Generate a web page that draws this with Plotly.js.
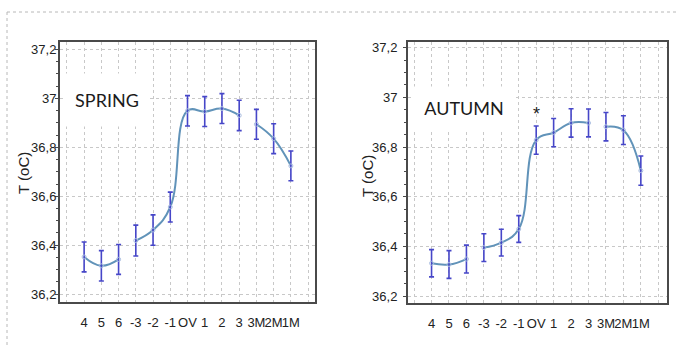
<!DOCTYPE html>
<html><head><meta charset="utf-8">
<script src="https://cdn.plot.ly/plotly-3.0.1.min.js"></script>
<style>html,body{margin:0;padding:0;background:#fff}#chart{width:677px;height:345px}</style>
</head><body><div id="chart"></div>
<script>
// ---- data ----
const categories = ['4','5','6','-3','-2','-1','OV','1','2','3','3M','2M','1M'];
const segmentStarts = [0, 3, 10]; // indices where the connecting line restarts
const springMean = [36.352,36.316,36.342,36.419,36.462,36.556,36.949,36.946,36.958,36.930,36.894,36.835,36.724];
const springErr  = [0.061,0.062,0.061,0.063,0.062,0.061,0.062,0.061,0.061,0.062,0.061,0.061,0.061];
const autumnMean = [36.332,36.327,36.349,36.395,36.415,36.470,36.828,36.858,36.897,36.897,36.882,36.868,36.705];
const autumnErr  = [0.055,0.056,0.056,0.056,0.054,0.054,0.057,0.057,0.057,0.056,0.057,0.058,0.059];
const panelLabels = ['SPRING','AUTUMN'];
const starLabel = '*';
const starCategory = 'OV';
const yTitle = 'T (oC)';

// ---- build ----
const W = 677, H = 345;
const idx = categories.map((c,i)=>i);
const lineColor = '#6193b9';
const errColor = '#4646c8';
const FONT = '"Liberation Sans", Arial, sans-serif';
const LABELFONT = 'Lato, "Liberation Sans", sans-serif';

function panelTraces(mean, err, xa, ya){
  const tr = [];
  const bounds = segmentStarts.concat([categories.length]);
  for (let s=0; s<segmentStarts.length; s++){
    const a = bounds[s], b = bounds[s+1];
    tr.push({x: idx.slice(a,b), y: mean.slice(a,b), xaxis: xa, yaxis: ya, type:'scatter', mode:'lines',
      line:{color: lineColor, width: 2, shape:'spline', smoothing: 1.2}, hoverinfo:'skip', showlegend:false});
  }
  tr.push({x: idx, y: mean, xaxis: xa, yaxis: ya, type:'scatter', mode:'markers',
    marker:{size:4, color:'rgba(255,255,255,0)', line:{color:'#a9bde0', width:1}},
    error_y:{type:'data', array: err, visible:true, color: errColor, thickness: 1.6, width: 2.5},
    showlegend:false});
  return tr;
}

const data = [].concat(
  panelTraces(springMean, springErr, 'x', 'y'),
  panelTraces(autumnMean, autumnErr, 'x2', 'y2')
);

const tickvals = [-1].concat(idx, [categories.length]);
const ticktext = [''].concat(categories, ['']);

function px(v){ return v / W; }
function py(v){ return 1 - v / H; }

function xAxis(domain, range){
  return {domain: domain, range: range, tickvals: tickvals, ticktext: ticktext, tickangle: 0,
    showgrid: true, gridcolor:'#c8c8c8', griddash:'dot', gridwidth:1,
    showline:true, mirror:true, linecolor:'#4a4a4a', linewidth:2,
    ticks:'', zeroline:false, ticklabelstandoff: 7,
    tickfont:{family: FONT, size: 13, color:'#222'}, fixedrange:true};
}
function yAxis(domain, range, anchor, standoff){
  return {domain: domain, range: range, anchor: anchor, dtick: 0.2, tick0: 36.2,
    showgrid: true, gridcolor:'#c8c8c8', griddash:'dot', gridwidth:1,
    showline:true, mirror:true, linecolor:'#4a4a4a', linewidth:2,
    ticks:'outside', ticklen:3, tickcolor:'#4a4a4a', zeroline:false, ticklabelstandoff: standoff,
    minor:{dtick:0.05, tick0:36.2, ticks:'outside', ticklen:2, tickcolor:'#4a4a4a', showgrid:false},
    tickfont:{family: FONT, size: 13, color:'#222'}, fixedrange:true};
}
function yMirror(range, overlay, anchor){
  return {overlaying: overlay, anchor: anchor, side:'right', range: range, dtick:0.2, tick0:36.2,
    showgrid:false, showline:false, zeroline:false, showticklabels:false,
    ticks:'inside', ticklen:5, tickcolor:'#4a4a4a',
    minor:{dtick:0.05, tick0:36.2, ticks:'inside', ticklen:3, tickcolor:'#4a4a4a'}, fixedrange:true};
}

const yRangeL = [36.168, 37.23];
const yRangeR = [36.172, 37.223];

const starIdx = categories.indexOf(starCategory);

const layout = {
  width: W, height: H, margin:{l:0,r:0,t:0,b:0},
  paper_bgcolor:'#fff', plot_bgcolor:'#fff',
  separators: ',.',
  font:{family: FONT, color:'#222'},
  showlegend:false,
  xaxis: xAxis([px(60), px(315)], [-1.4, 13.4]),
  yaxis: yAxis([py(302), py(42)], yRangeL, 'x', -4),
  xaxis2: Object.assign(xAxis([px(408), px(667)], [-1.35, 13.5]), {anchor:'y2'}),
  yaxis2: yAxis([py(303), py(42)], yRangeR, 'x2', 3),
  yaxis3: yMirror(yRangeL, 'y', 'x'),
  yaxis4: yMirror(yRangeR, 'y2', 'x2'),
  shapes: [
    {type:'line', xref:'paper', yref:'paper', x0:px(7), x1:1, y0:py(12), y1:py(12), line:{color:'#b8b8b8', width:1, dash:'dot'}},
    {type:'line', xref:'paper', yref:'paper', x0:px(7), x1:px(7), y0:py(12), y1:0, line:{color:'#b8b8b8', width:1, dash:'dot'}}
  ],
  annotations: [
    {text: panelLabels[0], xref:'paper', yref:'paper', x: px(107), y: py(100), xanchor:'center', yanchor:'middle',
     showarrow:false, bgcolor:'#fff', width: 80, height: 50,
     font:{family: LABELFONT, size: 18, color:'#1a1a1a'}},
    {text: panelLabels[1], xref:'paper', yref:'paper', x: px(464), y: py(108), xanchor:'center', yanchor:'middle',
     showarrow:false, bgcolor:'#fff', width: 100, height: 40,
     font:{family: LABELFONT, size: 18, color:'#1a1a1a'}},
    {text: starLabel, xref:'x2', yref:'y2', x: starIdx, y: autumnMean[starIdx] + autumnErr[starIdx] + 0.05,
     xanchor:'center', yanchor:'middle', showarrow:false,
     font:{family: FONT, size: 18, color:'#222'}},
    {text: yTitle, xref:'paper', yref:'paper', x: px(23), y: py(173), xanchor:'center', yanchor:'middle',
     textangle: -90, showarrow:false, font:{family: FONT, size: 15, color:'#222'}},
    {text: yTitle, xref:'paper', yref:'paper', x: px(367), y: py(176), xanchor:'center', yanchor:'middle',
     textangle: -90, showarrow:false, font:{family: FONT, size: 15, color:'#222'}}
  ]
};

Plotly.newPlot('chart', data, layout, {staticPlot:true, displayModeBar:false});
</script>
</body></html>
